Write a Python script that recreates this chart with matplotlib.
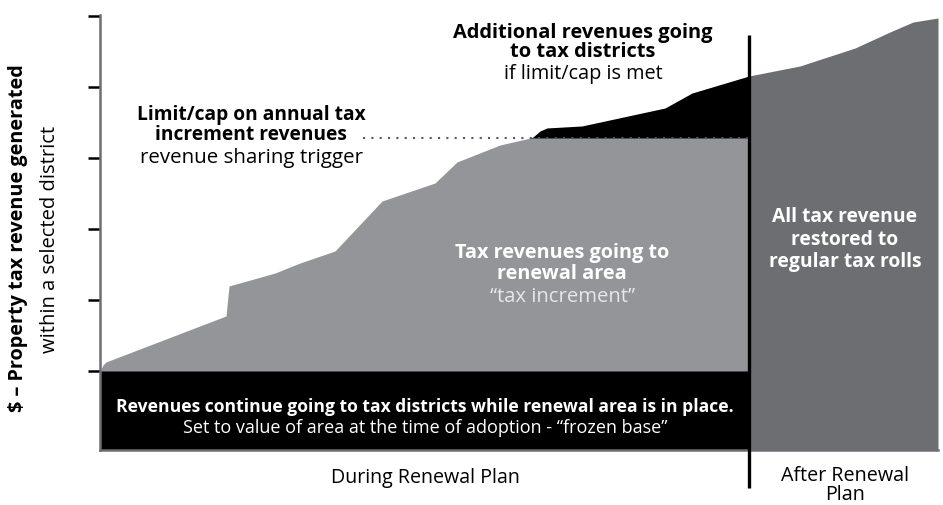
import matplotlib
matplotlib.use("Agg")
import matplotlib.pyplot as plt
import numpy as np

plt.rcParams['font.family'] = ['Open Sans', 'DejaVu Sans']

# ---- data (x: time units across the plan; y: revenue in tick units above the frozen base) ----
plan_end = 649
x_end = 838
base_floor = -1.113
cap = 3.28

incr_x = [0, 3, 6, 126, 129, 175, 200, 235, 282, 335, 357, 400, 430, 649]
incr_y = [0, 0.085, 0.127, 0.775, 1.197, 1.38, 1.521, 1.69, 2.394, 2.648, 2.944, 3.183, 3.28, 3.28]

extra_x = [430, 433, 440, 447, 482, 565, 592, 649]
extra_y = [3.28, 3.296, 3.38, 3.423, 3.451, 3.704, 3.915, 4.155]

after_x = [649, 700, 755, 790, 813, 838]
after_y = [4.155, 4.296, 4.549, 4.775, 4.915, 4.972]

yticks = [0, 1, 2, 3, 4, 5]

LIGHT = '#939598'
DARK = '#6d6e71'

fig = plt.figure(figsize=(9.43, 5.05), dpi=100)
ax = fig.add_axes([100/943, 1-450/505, 838/943, 435/505])
ax.set_xlim(0, x_end)
ax.set_ylim(base_floor, 5.014)

ax.fill_between([0, plan_end], base_floor, 0, color='black', lw=0)
ax.fill_between(incr_x, 0, incr_y, color=LIGHT, lw=0)
ax.fill_between(extra_x, cap, extra_y, color='black', lw=0)
ax.fill_between(after_x, base_floor, after_y, color=DARK, lw=0)

ax.plot([263, plan_end], [cap, cap], ls=(0, (1, 3)), color='#58595b', lw=1.5)

ax.plot([plan_end, plan_end], [-1.648, 4.732], color='black', lw=2.4, clip_on=False,
        solid_capstyle='butt', zorder=5)

for s in ['top', 'right']:
    ax.spines[s].set_visible(False)
ax.spines['left'].set_color(DARK)
ax.spines['left'].set_linewidth(1.8)
ax.spines['bottom'].set_color(DARK)
ax.spines['bottom'].set_linewidth(1.8)
ax.set_xticks([])
ax.set_yticks(yticks)
ax.set_yticklabels([])
ax.tick_params(axis='y', length=9, width=1.8, color='black', direction='out')

renderer = fig.canvas.get_renderer()


def group(items, ref_index, target_px, **kw):
    """Place a group of text lines; size the group so line ref_index spans target_px."""
    objs = []
    for (x, y, s, extra) in items:
        d = dict(ha='center', va='center', fontsize=10, clip_on=False)
        d.update(kw)
        d.update(extra)
        objs.append(ax.text(x, y, s, **d))
    w = objs[ref_index].get_window_extent(renderer).width
    fs = 10 * target_px / w
    for o in objs:
        o.set_fontsize(fs)
    return objs


B = dict(fontweight='bold')
N = dict(fontweight='normal')

group([(483, 4.761, 'Additional revenues going', B),
       (483, 4.493, 'to tax districts', B)], 0, 260)
group([(483, 4.183, 'if limit/cap is met', N)], 0, 160)

group([(151, 3.606, 'Limit/cap on annual tax', B),
       (151, 3.324, 'increment revenues', B)], 0, 228)
group([(151, 3.0, 'revenue sharing trigger', N)], 0, 223)

group([(462, 1.662, 'Tax revenues going to', B),
       (462, 1.366, 'renewal area', B)], 0, 215, color='white')
group([(462, 1.042, '\u201ctax increment\u201d', N)], 0, 145, color='#e6e7e8')

group([(745, 2.169, 'All tax revenue', B),
       (745, 1.845, 'restored to', B),
       (745, 1.535, 'regular tax rolls', B)], 2, 153, color='white')

group([(325, -0.507, 'Revenues continue going to tax districts while renewal area is in place.', B)],
      0, 618, color='white')
group([(325, -0.803, 'Set to value of area at the time of adoption - \u201cfrozen base\u201d', N)],
      0, 484, color='white')

group([(325, -1.507, 'During Renewal Plan', N)], 0, 190)
group([(745, -1.613, 'After Renewal\nPlan', dict(linespacing=0.95, multialignment='center'))],
      0, 128)

# y-axis label (two lines, rotated)
yl1 = fig.text(18/943, 1-238/505, '$ \u2013 Property tax revenue generated', rotation=90,
               ha='center', va='center', fontsize=10, fontweight='bold')
yl2 = fig.text(50/943, 1-239/505, 'within a selected district', rotation=90,
               ha='center', va='center', fontsize=10)
for t, target in [(yl1, 350), (yl2, 227)]:
    h = t.get_window_extent(renderer).height
    t.set_fontsize(10 * target / h)

fig.savefig('out.png', dpi=100)
